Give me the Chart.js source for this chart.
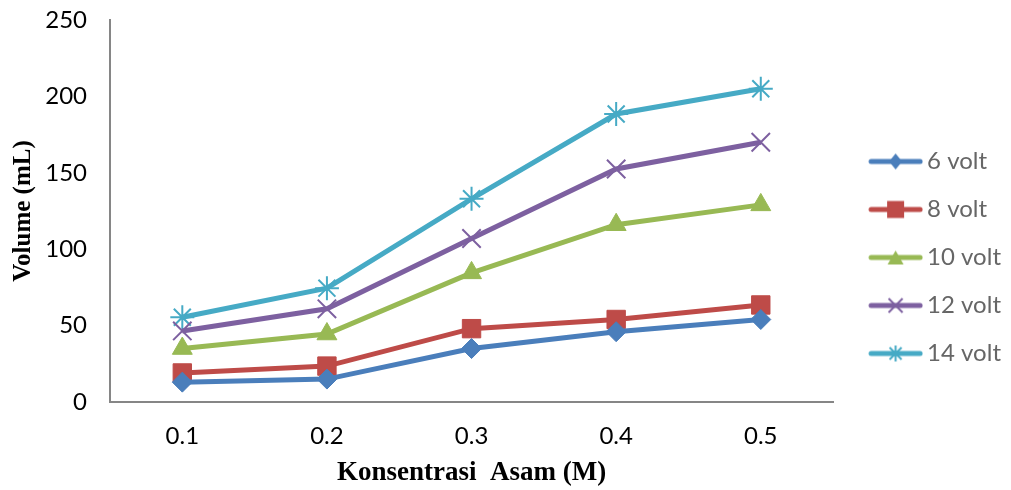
<!DOCTYPE html>
<html>
<head>
<meta charset="utf-8">
<script src="https://cdn.jsdelivr.net/npm/chart.js@4.4.1/dist/chart.umd.min.js"></script>
<style>
  html, body { margin: 0; padding: 0; background: #fff; }
  #wrap { position: relative; width: 1011px; height: 490px; }
</style>
</head>
<body>
<div id="wrap"><canvas id="line-chart"></canvas></div>
<script>
// data
const categories = ["0.1", "0.2", "0.3", "0.4", "0.5"];
const volt6 = [13, 15, 35, 46, 54];
const volt8 = [19, 23.5, 48, 54, 63.5];
const volt10 = [35, 44.5, 84.5, 116, 129];
const volt12 = [46.5, 61, 107, 152.5, 170];
const volt14 = [55.5, 74.5, 133, 188.5, 205];
const seriesNames = ["6 volt", "8 volt", "10 volt", "12 volt", "14 volt"];
const yTicks = [0, 50, 100, 150, 200, 250];

const colors = ["#4a7ebb", "#be4b48", "#98b954", "#7d60a0", "#46aac5"];
const markers = ["rectRot", "rect", "triangle", "crossRot", "star"];
const radii = [10, 13, 11.5, 13, 12];

// line+marker picture for each legend entry (wider than the box so the line reaches the text)
function legendIcon(color, style) {
  const c = document.createElement("canvas");
  c.width = 74; c.height = 22;
  const g = c.getContext("2d");
  const x0 = 22, x1 = 71, cy = 11;
  const cx = (x0 + x1) / 2;
  g.strokeStyle = color; g.fillStyle = color;
  g.lineWidth = 5; g.lineCap = "round";
  g.beginPath(); g.moveTo(x0, cy); g.lineTo(x1, cy); g.stroke();
  g.lineWidth = 2; g.lineCap = "butt";
  if (style === "rectRot") {
    g.beginPath(); g.moveTo(cx, cy - 8); g.lineTo(cx + 6.5, cy); g.lineTo(cx, cy + 8); g.lineTo(cx - 6.5, cy); g.closePath(); g.fill();
  } else if (style === "rect") {
    g.fillRect(cx - 8.5, cy - 8.5, 17, 17);
  } else if (style === "triangle") {
    g.beginPath(); g.moveTo(cx, cy - 7); g.lineTo(cx + 8, cy + 7); g.lineTo(cx - 8, cy + 7); g.closePath(); g.fill();
  } else if (style === "crossRot") {
    g.beginPath(); g.moveTo(cx - 7, cy - 7); g.lineTo(cx + 7, cy + 7); g.moveTo(cx + 7, cy - 7); g.lineTo(cx - 7, cy + 7); g.stroke();
  } else {
    g.beginPath(); g.moveTo(cx - 6, cy - 6); g.lineTo(cx + 6, cy + 6); g.moveTo(cx + 6, cy - 6); g.lineTo(cx - 6, cy + 6);
    g.moveTo(cx, cy - 8); g.lineTo(cx, cy + 8); g.stroke();
  }
  return c;
}

const values = [volt6, volt8, volt10, volt12, volt14];
const datasets = values.map((v, i) => ({
  label: seriesNames[i],
  data: v,
  borderColor: colors[i],
  backgroundColor: colors[i],
  borderWidth: 5,
  pointStyle: markers[i],
  pointRadius: radii[i],
  pointHoverRadius: radii[i],
  pointBorderWidth: (markers[i] === "crossRot" || markers[i] === "star") ? 2 : 1,
  pointBorderColor: colors[i],
  pointBackgroundColor: colors[i],
  tension: 0,
}));

const tickFont = { family: "Lato, 'Open Sans', sans-serif", size: 24 };
const titleFont = { family: "'Liberation Serif', 'Times New Roman', serif", size: 27, weight: "bold" };

let config = {
  type: "line",
  data: { labels: categories, datasets: datasets },
  options: {
    responsive: true,
    maintainAspectRatio: false,
    animation: false,
    layout: { autoPadding: false, padding: { top: 6, right: 0, bottom: 1, left: 9 } },
    plugins: {
      tooltip: { enabled: false },
      legend: {
        position: "right",
        align: "center",
        maxWidth: 178,
        title: { display: true, text: " ", font: { size: 10 }, padding: 4 },
        labels: {
          color: "#000",
          font: tickFont,
          usePointStyle: true,
          pointStyleWidth: 58,
          boxHeight: 20,
          padding: 24,
          generateLabels: (chart) => chart.data.datasets.map((ds, i) => ({
            text: ds.label,
            fillStyle: ds.borderColor,
            strokeStyle: ds.borderColor,
            lineWidth: 0,
            pointStyle: legendIcon(ds.borderColor, markers[i]),
            datasetIndex: i,
            hidden: false,
          })),
        },
      },
    },
    scales: {
      x: {
        offset: true,
        grid: { display: false, drawTicks: false },
        border: { color: "#868686", width: 2 },
        ticks: { color: "#000", font: tickFont, padding: 20 },
        title: { display: true, text: "Konsentrasi  Asam (M)", color: "#000", font: titleFont, padding: { top: 5, bottom: 0 } },
        // chart.js counts tick padding twice; fix the band height instead
        afterFit: (axis) => { axis.height = 87; },
      },
      y: {
        min: 0,
        max: 250,
        afterBuildTicks: (axis) => { axis.ticks = yTicks.map((v) => ({ value: v })); },
        grid: { display: false, drawTicks: false },
        border: { color: "#868686", width: 2 },
        ticks: { color: "#000", font: tickFont, padding: 23 },
        title: { display: true, text: "Volume (mL)", color: "#000", font: { family: titleFont.family, size: 25, weight: "bold" }, padding: { top: 0, bottom: 6 } },
        afterFit: (axis) => { axis.width = 101; axis.paddingTop = 20; axis.paddingBottom = 15; },
      },
    },
  },
};

let ctx = document.getElementById("line-chart").getContext("2d");
window.lineChartInstance = new Chart(ctx, config);
</script>
</body>
</html>
